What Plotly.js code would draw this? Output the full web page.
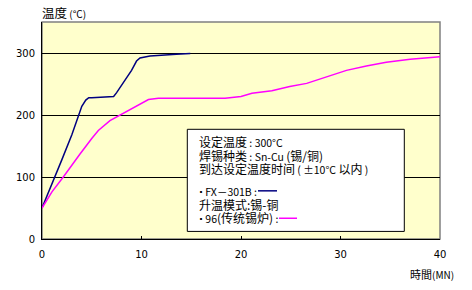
<!DOCTYPE html>
<html>
<head>
<meta charset="utf-8">
<script src="https://cdn.plot.ly/plotly-3.0.1.min.js"></script>
<style>html,body{margin:0;padding:0;background:#fff;}#chart{width:472px;height:290px;}</style>
</head>
<body>
<div id="chart"></div>
<script>
// FX-301B (blue) heating curve
const blueTime = [0, 1, 2, 3, 3.65, 4, 4.4, 4.7, 5, 6, 7, 7.2, 7.5, 8, 8.5, 9, 9.5, 9.85, 10.85, 12.2, 13.5, 14.9];
const blueTemp = [50, 88, 128, 168, 200, 214, 224, 228, 228, 229, 229, 230, 236, 248, 260, 272, 287, 292, 295, 297, 298, 299];
// Traditional furnace (magenta) heating curve
const pinkTime = [0, 1, 2.14, 3, 3.82, 5, 5.66, 6.83, 8.17, 9.5, 10.7, 11.7, 14, 16, 18.4, 20, 21.1, 23.1, 24.9, 26.6, 28.6, 30.6, 32.6, 34.6, 37, 39.8, 40];
const pinkTemp = [50, 76, 100, 118, 137, 162, 175, 191, 203, 215, 225, 227, 227, 227, 227, 230, 235, 239, 246, 251, 262, 272, 279, 285, 290, 294, 294];
const xTicks = [0, 10, 20, 30, 40];
const yTicks = [0, 100, 200, 300];

const cjk = '"Noto Sans CJK SC", "DejaVu Sans", sans-serif';
const blue = '#000080', pink = '#FF00FF';

const traces = [
  {x: blueTime, y: blueTemp, mode: 'lines', line: {color: blue, width: 1.5}, hoverinfo: 'skip'},
  {x: pinkTime, y: pinkTemp, mode: 'lines', line: {color: pink, width: 1.5}, hoverinfo: 'skip'}
];

const L = 42, R = 440, T = 21.7, B = 239.3;
const px = v => (v - L) / (R - L);
const py = v => (B - v) / (B - T);
const zh = s => '<span style="font-size:12px">' + s + '</span>';
const dot = '<span style="font-family:DejaVu Sans;font-weight:bold">·</span>';

function txt(x, y, text, opts) {
  return Object.assign({xref: 'paper', yref: 'paper', x: px(x), y: py(y), text: text, showarrow: false,
    xanchor: 'left', yanchor: 'middle', align: 'left', font: {family: cjk, size: 10.5, color: '#000'}}, opts || {});
}

const layout = {
  width: 472, height: 290,
  margin: {l: L, r: 472 - R, t: T, b: 290 - B},
  paper_bgcolor: '#ffffff', plot_bgcolor: '#FFFFCC',
  showlegend: false,
  xaxis: {range: [0, 40], tickvals: xTicks, ticktext: xTicks.map(String), showgrid: false, zeroline: false,
    showline: true, linecolor: '#000', linewidth: 1, ticks: 'inside', ticklen: 3, tickcolor: '#000',
    tickfont: {family: '"DejaVu Sans", sans-serif', size: 10, color: '#000'}, ticklabelstandoff: 6},
  yaxis: {range: [0, 350], tickvals: yTicks, ticktext: yTicks.map(String), showgrid: true, gridcolor: '#000', gridwidth: 1,
    zeroline: false, showline: true, linecolor: '#000', linewidth: 1, ticks: '',
    tickfont: {family: '"DejaVu Sans", sans-serif', size: 10, color: '#000'}, ticklabelstandoff: 4},
  shapes: [
    {type: 'rect', xref: 'paper', yref: 'paper', x0: 0, x1: 1, y0: 0, y1: 1, line: {color: '#808080', width: 1.5}, layer: 'below'},
    {type: 'rect', xref: 'paper', yref: 'paper', x0: px(187.3), x1: px(404.3), y0: py(231.7), y1: py(129.3),
      line: {color: '#000', width: 1}, fillcolor: '#ffffff', layer: 'above'},
    {type: 'line', xref: 'paper', yref: 'paper', x0: px(258), x1: px(277), y0: py(191), y1: py(191), line: {color: blue, width: 1.5}},
    {type: 'line', xref: 'paper', yref: 'paper', x0: px(279), x1: px(297), y0: py(218.5), y1: py(218.5), line: {color: pink, width: 1.5}}
  ],
  annotations: [
    txt(40, 12.5, '<span style="font-size:12.5px">温度</span> (°C)', {font: {family: cjk, size: 10, color: '#000'}}),
    txt(456, 274, '<span style="font-size:11px">時間</span>(MN)', {xanchor: 'right', font: {family: cjk, size: 10, color: '#000'}}),
    txt(197, 155.5,
      zh('设定温度') + ' : 300°C<br>' +
      zh('焊锡种类') + ' : Sn-Cu ' + zh('(锡/铜)') + '<br>' +
      zh('到达设定温度时间') + ' ( ±10°C ' + zh('以内') + ' )'),
    txt(197, 205,
      dot + ' FX－301B :<br>' +
      zh('升温模式:锡-铜') + '<br>' +
      dot + ' 96' + zh('(传统锡炉)') + ' :')
  ]
};

Plotly.newPlot('chart', traces, layout, {staticPlot: true, displayModeBar: false});
</script>
</body>
</html>
